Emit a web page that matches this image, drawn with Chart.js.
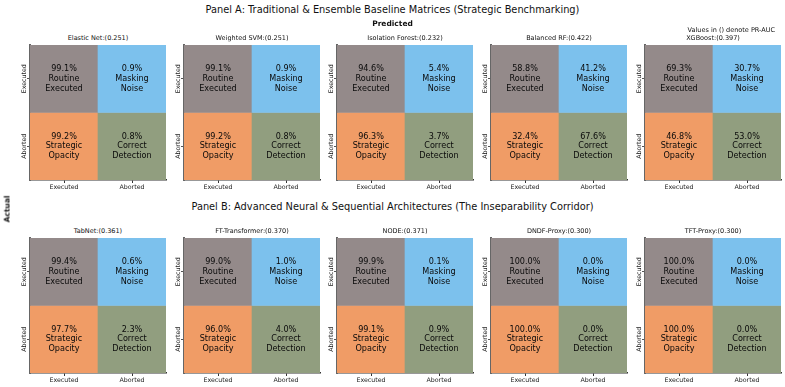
<!DOCTYPE html>
<html>
<head>
<meta charset="utf-8">
<script src="https://cdn.jsdelivr.net/npm/chart.js@4/dist/chart.umd.min.js"></script>
<style>
  body { margin: 0; background: #fff; font-family: 'DejaVu Sans', sans-serif; }
  #page { position: relative; width: 785px; height: 387px; overflow: hidden; }
  .box { position: absolute; }
  .lbl { position: absolute; white-space: nowrap; color: #111; transform: translate(-50%, -50%); }
</style>
</head>
<body>
<div id="page"></div>
<script>
/* confusion matrices, values in % of actual row */
const classLabels = ['Executed', 'Aborted'];
const cellNames = [['Routine', 'Executed'], ['Masking', 'Noise'], ['Strategic', 'Opacity'], ['Correct', 'Detection']];
const cellColors = ['#948a8a', '#7cc1ed', '#f09c66', '#919e7f'];

const panelAModels = ['Elastic Net', 'Weighted SVM', 'Isolation Forest', 'Balanced RF', 'XGBoost'];
const panelAAuc = ['0.251', '0.251', '0.232', '0.422', '0.397'];
const panelARoutine = [99.1, 99.1, 94.6, 58.8, 69.3];
const panelAMasking = [0.9, 0.9, 5.4, 41.2, 30.7];
const panelAOpacity = [99.2, 99.2, 96.3, 32.4, 46.8];
const panelADetection = [0.8, 0.8, 3.7, 67.6, 53.0];

const panelBModels = ['TabNet', 'FT-Transformer', 'NODE', 'DNDF-Proxy', 'TFT-Proxy'];
const panelBAuc = ['0.361', '0.370', '0.371', '0.300', '0.300'];
const panelBRoutine = [99.4, 99.0, 99.9, 100.0, 100.0];
const panelBMasking = [0.6, 1.0, 0.1, 0.0, 0.0];
const panelBOpacity = [97.7, 96.0, 99.1, 100.0, 100.0];
const panelBDetection = [2.3, 4.0, 0.9, 0.0, 0.0];

const page = document.getElementById('page');
const FONT = "'DejaVu Sans', sans-serif";
const lefts = [30, 184, 337, 491, 645];
const CELL_W = 136, CELL_H = 135;
const PAD_L = 24, PAD_T = 2, PAD_R = 2, PAD_B = 18;

function addText(text, x, y, size, opts) {
  opts = opts || {};
  const el = document.createElement('div');
  el.className = 'lbl';
  el.textContent = text;
  el.style.left = x + 'px';
  el.style.top = y + 'px';
  el.style.fontSize = size + 'px';
  if (opts.bold) el.style.fontWeight = 'bold';
  if (opts.rotate) el.style.transform = 'translate(-50%, -50%) rotate(-90deg)';
  if (opts.right) { el.style.transform = 'translate(-100%, -50%)'; }
  page.appendChild(el);
}

const cellTextPlugin = {
  id: 'cellText',
  afterDatasetsDraw(chart) {
    const ctx = chart.ctx;
    const vals = chart.options.plugins.cellText.values;
    ctx.save();
    ctx.fillStyle = '#0a0a0a';
    ctx.font = '8.1px ' + FONT;
    ctx.textAlign = 'center';
    ctx.textBaseline = 'middle';
    chart.data.datasets.forEach((ds, di) => {
      chart.getDatasetMeta(di).data.forEach((bar, j) => {
        const k = di * 2 + j;
        const cy = (bar.y + bar.base) / 2;
        const lines = [vals[k].toFixed(1) + '%', cellNames[k][0], cellNames[k][1]];
        lines.forEach((t, li) => ctx.fillText(t, bar.x, cy + (li - 1) * 9.7));
      });
    });
    // rotated y tick labels
    const ys = chart.scales.y;
    ctx.font = '6.3px ' + FONT;
    ctx.fillStyle = '#222';
    [[1.5, classLabels[0]], [0.5, classLabels[1]]].forEach(([v, t]) => {
      ctx.save();
      ctx.translate(ys.right - 6, ys.getPixelForValue(v));
      ctx.rotate(-Math.PI / 2);
      ctx.fillText(t, 0, 0);
      ctx.restore();
    });
    ctx.restore();
  }
};

function drawMatrix(left, top, title, vals) {
  const w = CELL_W + PAD_L + PAD_R, h = CELL_H + PAD_T + PAD_B;
  const box = document.createElement('div');
  box.className = 'box';
  box.style.left = (left - PAD_L) + 'px';
  box.style.top = (top - PAD_T) + 'px';
  const cv = document.createElement('canvas');
  cv.width = w; cv.height = h;
  box.appendChild(cv);
  page.appendChild(box);

  addText(title, left + CELL_W / 2, top - 7, 6.5);

  new Chart(cv, {
    type: 'bar',
    data: {
      labels: classLabels,
      datasets: [
        { data: [[1, 2], [1, 2]], backgroundColor: [cellColors[0], cellColors[1]] },
        { data: [[0, 1], [0, 1]], backgroundColor: [cellColors[2], cellColors[3]] }
      ]
    },
    options: {
      responsive: false,
      animation: false,
      devicePixelRatio: 1,
      layout: { padding: { top: PAD_T, right: PAD_R, left: 0, bottom: 0 } },
      datasets: { bar: { barPercentage: 1, categoryPercentage: 1, grouped: false, borderWidth: 0 } },
      plugins: { legend: { display: false }, tooltip: { enabled: false }, cellText: { values: vals } },
      scales: {
        x: {
          offset: true,
          grid: { offset: false, drawOnChartArea: false, drawTicks: true, tickLength: 3, color: '#333' },
          border: { display: true, color: '#333', width: 1.5 },
          ticks: { color: '#222', font: { family: FONT, size: 6.3 }, padding: 1, maxRotation: 0 },
          afterFit(s) { s.height = PAD_B; }
        },
        y: {
          min: 0, max: 2,
          afterBuildTicks(s) { s.ticks = [{ value: 0.5 }, { value: 1.5 }]; },
          grid: { drawOnChartArea: false, drawTicks: true, tickLength: 3, color: '#555' },
          border: { display: true, color: '#666', width: 2 },
          ticks: { display: false },
          afterFit(s) { s.width = PAD_L; }
        }
      }
    },
    plugins: [cellTextPlugin]
  });
}

panelAModels.forEach((m, i) => {
  drawMatrix(lefts[i], 45, m + ':(' + panelAAuc[i] + ')',
    [panelARoutine[i], panelAMasking[i], panelAOpacity[i], panelADetection[i]]);
});
panelBModels.forEach((m, i) => {
  drawMatrix(lefts[i], 238, m + ':(' + panelBAuc[i] + ')',
    [panelBRoutine[i], panelBMasking[i], panelBOpacity[i], panelBDetection[i]]);
});

addText('Panel A: Traditional & Ensemble Baseline Matrices (Strategic Benchmarking)', 392.5, 8.5, 9.8);
addText('Predicted', 392.5, 22.7, 7.5, { bold: true });
addText('Values in () denote PR-AUC', 775, 30, 6.5, { right: true });
addText('Actual', 6.5, 208.5, 7.5, { bold: true, rotate: true });
addText('Panel B: Advanced Neural & Sequential Architectures (The Inseparability Corridor)', 392.5, 206, 9.8);
</script>
</body>
</html>
